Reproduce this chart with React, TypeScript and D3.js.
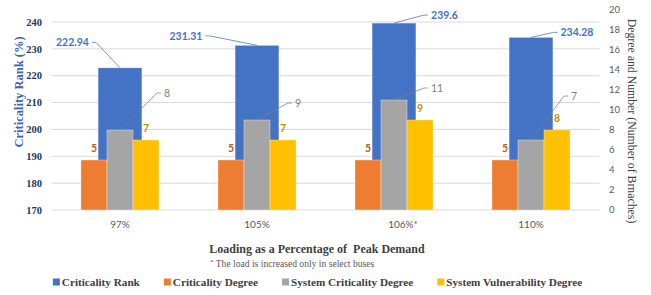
import { useEffect, useRef } from "react";
import * as d3 from "d3";

const categories = ["97%", "105%", "106%*", "110%"];
const criticalityRank = [222.94, 231.31, 239.6, 234.28];
const criticalityDegree = [5, 5, 5, 5];
const systemCriticalityDegree = [8, 9, 11, 7];
const systemVulnerabilityDegree = [7, 7, 9, 8];
const leftTicks = [170, 180, 190, 200, 210, 220, 230, 240];
const rightTicks = [0, 2, 4, 6, 8, 10, 12, 14, 16, 18, 20];
const seriesNames = [
  "Criticality Rank",
  "Criticality Degree",
  "System Criticality Degree",
  "System Vulnerability Degree",
];

// label placement (offset of the label centre from the bar top)
const rankLabelOffsets = [
  [-47.5, -25.5],
  [-71, -9.5],
  [50.5, -8],
  [46, -5],
];
const grayLabelOffsets = [
  [47, -37],
  [41, -17],
  [43, -12],
  [43, -44],
];
const tickLabelDx = [0, 0, 9, 0];

const COLORS = ["#4472C4", "#ED7D31", "#A5A5A5", "#FFC000"];
const LABEL_COLORS = ["#4472C4", "#C55A11", "#7F7F7F", "#BF9000"];
const SANS = "Lato, 'Liberation Sans', sans-serif";
const SERIF = "'Liberation Serif', 'DejaVu Serif', serif";

export default function App() {
  const svgRef = useRef<SVGSVGElement>(null);

  useEffect(() => {
    if (!svgRef.current) return;
    const W = 651;
    const H = 295;
    const svg = d3.select(svgRef.current);
    svg.selectAll("*").remove();
    svg.attr("width", W).attr("height", H).attr("viewBox", `0 0 ${W} ${H}`);

    const x = d3.scaleBand().domain(categories).range([51.5, 599.5]);
    const bw = x.bandwidth();
    const yL = d3.scaleLinear().domain([170, 240]).range([210, 22]);
    const yR = d3.scaleLinear().domain([0, 20]).range([210, 10]);
    const sub = d3
      .scaleBand()
      .domain(["cd", "scd", "svd"])
      .range([-bw * 0.285, bw * 0.285]);
    const rankW = bw * 0.32;

    // gridlines
    svg
      .append("g")
      .selectAll("line")
      .data(leftTicks)
      .enter()
      .append("line")
      .attr("x1", 51.5)
      .attr("x2", 599.5)
      .attr("y1", (d) => yL(d))
      .attr("y2", (d) => yL(d))
      .attr("stroke", "#D9D9D9")
      .attr("stroke-width", 1);

    // left axis labels
    svg
      .append("g")
      .selectAll("text")
      .data(leftTicks)
      .enter()
      .append("text")
      .attr("x", 42)
      .attr("y", (d) => yL(d))
      .attr("dy", "0.35em")
      .attr("text-anchor", "end")
      .style("font-family", SERIF)
      .style("font-weight", "bold")
      .style("font-size", "10.5px")
      .attr("fill", "#203864")
      .text((d) => d);

    // right axis labels
    svg
      .append("g")
      .selectAll("text")
      .data(rightTicks)
      .enter()
      .append("text")
      .attr("x", 609)
      .attr("y", (d) => yR(d))
      .attr("dy", "0.35em")
      .style("font-family", SANS)
      .style("font-size", "9.5px")
      .attr("fill", "#595959")
      .text((d) => d);

    // axis titles
    svg
      .append("text")
      .attr("transform", "translate(19,92) rotate(-90)")
      .attr("text-anchor", "middle")
      .attr("dy", "0.35em")
      .style("font-family", SERIF)
      .style("font-weight", "bold")
      .style("font-size", "12.5px")
      .attr("fill", "#3A66B5")
      .text("Criticality Rank (%)");

    svg
      .append("text")
      .attr("transform", "translate(632,121) rotate(90)")
      .attr("text-anchor", "middle")
      .attr("dy", "0.35em")
      .style("font-family", SERIF)
      .style("font-size", "11.8px")
      .attr("fill", "#404040")
      .text("Degree and Number (Number of Brnaches)");

    // criticality rank bars (behind)
    const rankTop = criticalityRank.map((v, i) => ({
      cx: (x(categories[i]) as number) + bw / 2,
      y: yL(v),
      v,
    }));
    svg
      .append("g")
      .selectAll("rect")
      .data(rankTop)
      .enter()
      .append("rect")
      .attr("x", (d) => d.cx - rankW / 2)
      .attr("y", (d) => d.y)
      .attr("width", rankW)
      .attr("height", (d) => yL(170) - d.y)
      .attr("fill", COLORS[0])
      .attr("stroke", "#ffffff")
      .attr("stroke-opacity", 0.5)
      .attr("stroke-width", 0.7);

    // degree bars
    const degreeSeries = [
      { key: "cd", values: criticalityDegree, color: COLORS[1] },
      { key: "scd", values: systemCriticalityDegree, color: COLORS[2] },
      { key: "svd", values: systemVulnerabilityDegree, color: COLORS[3] },
    ];
    const groups = svg.append("g");
    degreeSeries.forEach((s) => {
      groups
        .append("g")
        .selectAll("rect")
        .data(s.values)
        .enter()
        .append("rect")
        .attr(
          "x",
          (_d, i) =>
            (x(categories[i]) as number) + bw / 2 + (sub(s.key) as number),
        )
        .attr("y", (d) => yR(d))
        .attr("width", sub.bandwidth())
        .attr("height", (d) => yR(0) - yR(d))
        .attr("fill", s.color)
        .attr("stroke", "#ffffff")
        .attr("stroke-opacity", 0.5)
        .attr("stroke-width", 0.7);
    });

    // plain labels above orange & yellow bars
    [degreeSeries[0], degreeSeries[2]].forEach((s, k) => {
      svg
        .append("g")
        .selectAll("text")
        .data(s.values)
        .enter()
        .append("text")
        .attr(
          "x",
          (_d, i) =>
            (x(categories[i]) as number) +
            bw / 2 +
            (sub(s.key) as number) +
            sub.bandwidth() / 2,
        )
        .attr("y", (d) => yR(d) - 12)
        .attr("dy", "0.35em")
        .attr("text-anchor", "middle")
        .style("font-family", SANS)
        .style("font-weight", "bold")
        .style("font-size", "10.5px")
        .attr("fill", k === 0 ? LABEL_COLORS[1] : LABEL_COLORS[3])
        .text((d) => d);
    });

    // labels with leader lines
    const leader = (
      px: number,
      py: number,
      off: number[],
      txt: string,
      color: string,
      bold: boolean,
    ) => {
      const lx = px + off[0];
      const ly = py + off[1];
      const t = svg
        .append("text")
        .attr("x", lx)
        .attr("y", ly)
        .attr("dy", "0.35em")
        .attr("text-anchor", "middle")
        .style("font-family", SANS)
        .style("font-weight", bold ? "bold" : "normal")
        .style("font-size", "10.5px")
        .attr("fill", color)
        .text(txt);
      const w = (t.node() as SVGTextElement).getComputedTextLength();
      const left = lx < px;
      const sx = left ? lx + w / 2 + 3 : lx - w / 2 - 3;
      const hx = left ? sx + 4 : sx - 4;
      svg
        .append("path")
        .attr("d", `M${sx},${ly}L${hx},${ly}L${px},${py}`)
        .attr("fill", "none")
        .attr("stroke", color)
        .attr("stroke-width", 0.75);
    };

    rankTop.forEach((d, i) => {
      leader(d.cx, d.y, rankLabelOffsets[i], String(d.v), LABEL_COLORS[0], true);
    });
    systemCriticalityDegree.forEach((v, i) => {
      const cx =
        (x(categories[i]) as number) +
        bw / 2 +
        (sub("scd") as number) +
        sub.bandwidth() / 2;
      leader(cx, yR(v), grayLabelOffsets[i], String(v), LABEL_COLORS[2], false);
    });

    // category labels
    svg
      .append("g")
      .selectAll("text")
      .data(categories)
      .enter()
      .append("text")
      .attr("x", (d, i) => (x(d) as number) + bw / 2 + tickLabelDx[i])
      .attr("y", 224)
      .attr("dy", "0.35em")
      .attr("text-anchor", "middle")
      .style("font-family", SANS)
      .style("font-size", "10px")
      .attr("fill", "#595959")
      .text((d) => d);

    // x title & footnote
    svg
      .append("text")
      .attr("x", 317)
      .attr("y", 249)
      .attr("dy", "0.35em")
      .attr("text-anchor", "middle")
      .style("font-family", SERIF)
      .style("font-weight", "bold")
      .style("font-size", "12px")
      .style("white-space", "pre")
      .attr("fill", "#404040")
      .text("Loading as a Percentage of  Peak Demand");

    const fn = svg
      .append("text")
      .attr("x", 210)
      .attr("y", 266)
      .attr("dy", "0.35em")
      .style("font-family", SERIF)
      .style("font-size", "9.6px")
      .attr("fill", "#595959");
    fn.append("tspan").attr("dy", "-0.3em").style("font-size", "7px").text("*");
    fn.append("tspan").attr("dy", "0.3em").text(" The load is increased only in select buses");

    // legend
    const legend = svg.append("g");
    let cursor = 0;
    seriesNames.forEach((name, i) => {
      const g = legend.append("g").attr("transform", `translate(${cursor},0)`);
      g.append("rect")
        .attr("x", 0)
        .attr("y", -3.5)
        .attr("width", 7)
        .attr("height", 7)
        .attr("fill", COLORS[i]);
      const t = g
        .append("text")
        .attr("x", 9)
        .attr("y", 0)
        .attr("dy", "0.35em")
        .style("font-family", SERIF)
        .style("font-weight", "bold")
        .style("font-size", "11.2px")
        .attr("fill", "#404040")
        .text(name);
      const w = (t.node() as SVGTextElement).getComputedTextLength();
      cursor += 9 + w + (i < seriesNames.length - 1 ? 24 : 0);
    });
    legend.attr("transform", `translate(${317.5 - cursor / 2},282)`);
  }, []);

  return (
    <div style={{ position: "absolute", left: 0, top: 0 }}>
      <svg ref={svgRef} style={{ display: "block" }} />
    </div>
  );
}
